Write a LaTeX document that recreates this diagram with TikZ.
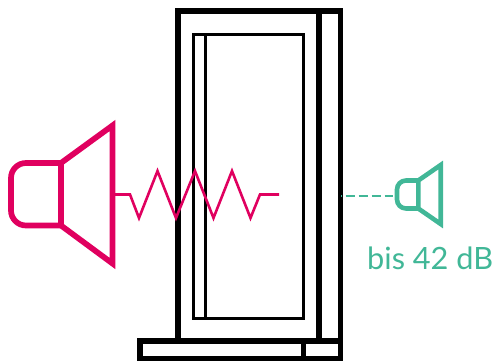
\documentclass[tikz,border=0pt]{standalone}
\usepackage{fontspec}
\setmainfont{Lato}
\definecolor{pinkc}{HTML}{E0005F}
\definecolor{greenc}{HTML}{41B797}
\tikzset{
  thick frame/.style={draw=black,line width=5.7pt,miter limit=10},
  thin frame/.style={draw=black,line width=3pt},
  bigspk/.style={draw=pinkc,line width=5.7pt,miter limit=10,line join=miter},
  smallspk/.style={draw=greenc,line width=4.6pt,miter limit=10,line join=miter},
}
\begin{document}
\begin{tikzpicture}[x=1pt,y=-1pt]
\useasboundingbox (0,0) rectangle (496,361);
% door frame
\draw[thick frame] (178,341) -- (178,11) -- (340.5,11) -- (340.5,341);
\draw[thick frame] (319,8.3) -- (319,341);
\draw[thick frame] (140.3,341.3) rectangle (340.5,358.5);
\draw[thick frame] (303.5,341) -- (303.5,358.5);
% inner panel
\draw[thin frame] (193,35) rectangle (303.5,318);
\draw[thin frame] (205.5,35) -- (205.5,318);
% loud speaker
\draw[bigspk,rounded corners=15pt] (61,225.5) -- (11,225.5) -- (11,163) -- (61,163);
\draw[bigspk] (61,163) -- (112.5,125.5) -- (112.5,263.5) -- (61,225.5) -- cycle;
% transmitted wave
\draw[draw=pinkc,line width=2.6pt,line join=miter] (115,194.5) -- (130,194.5) -- (139,218) -- (157.5,171) -- (176,218) -- (195,171) -- (213.5,218) -- (232,171) -- (250.5,218) -- (260,194.5) -- (279,194.5);
% quiet speaker
\draw[smallspk,rounded corners=9pt] (418.3,208.5) -- (397,208.5) -- (397,180.5) -- (418.3,180.5);
\draw[smallspk] (418.3,180.5) -- (440.7,165) -- (440.7,224) -- (418.3,208.5) -- cycle;
\draw[draw=greenc,line width=2pt,dash pattern=on 9pt off 4pt,dash phase=8.3pt] (341,195.7) -- (393.3,195.7);
\node[anchor=base west,inner sep=0pt,text=greenc,font=\fontsize{30.7}{30.7}\selectfont] (label) at (367,269) {bis 42 dB};
\end{tikzpicture}
\end{document}
